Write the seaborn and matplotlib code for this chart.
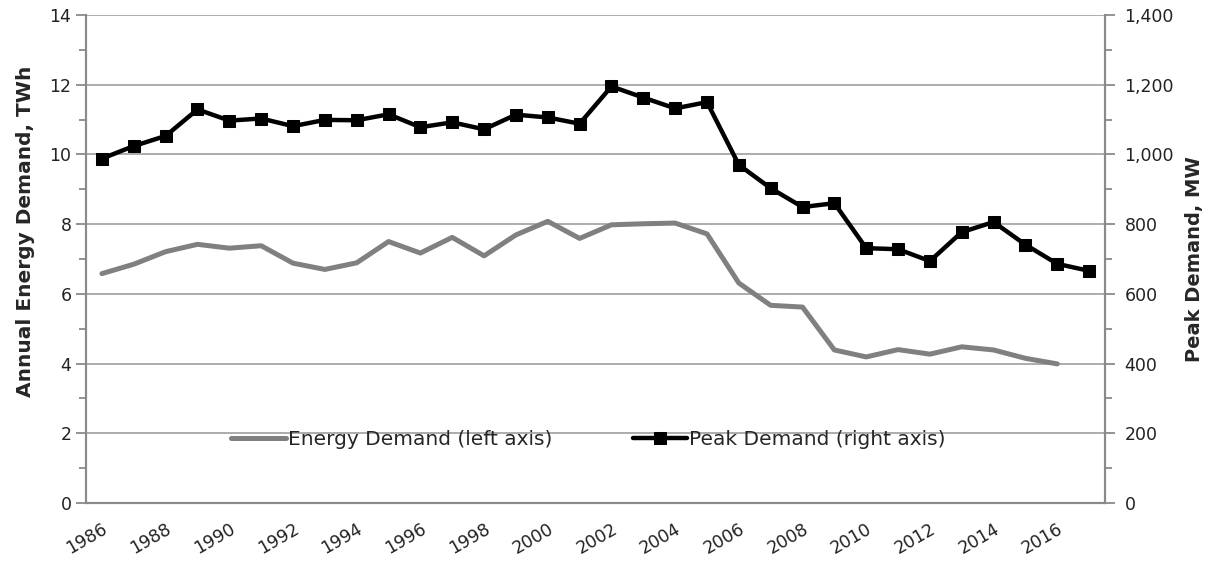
import numpy as np
import pandas as pd
import seaborn as sns
import matplotlib.pyplot as plt
from matplotlib.ticker import MultipleLocator, FuncFormatter

years = list(range(1986, 2018))
energy_twh = [6.58, 6.85, 7.21, 7.42, 7.31, 7.38, 6.88, 6.70, 6.89, 7.50,
              7.17, 7.62, 7.09, 7.69, 8.08, 7.59, 7.98, 8.01, 8.03, 7.72,
              6.31, 5.67, 5.62, 4.39, 4.19, 4.40, 4.27, 4.48, 4.39, 4.15,
              3.99, np.nan]
peak_mw = [988, 1024, 1053, 1129, 1097, 1103, 1081, 1099, 1098, 1115,
           1078, 1092, 1072, 1114, 1106, 1088, 1195, 1163, 1132, 1150,
           970, 903, 849, 860, 731, 728, 694, 777, 806, 741,
           686, 666]

df = pd.DataFrame({"year": years, "energy": energy_twh, "peak": peak_mw})

sns.set_style("white")
plt.rcParams["font.family"] = ["DejaVu Sans"]
grey = "#8a8a8a"

fig = plt.figure(figsize=(12.15, 5.63), dpi=100, facecolor="white")
ax = fig.add_axes([0.0708, 0.1066, 0.8387, 0.8668])
ax2 = ax.twinx()

sns.lineplot(data=df, x="year", y="energy", ax=ax, color="#808080",
             linewidth=3.6, label="Energy Demand (left axis)", legend=False)
sns.lineplot(data=df, x="year", y="peak", ax=ax2, color="black",
             linewidth=3.2, marker="s", markersize=9, markeredgecolor="black",
             label="Peak Demand (right axis)", legend=False)

ax.set_xlim(1985.5, 2017.5)
ax.set_ylim(0, 14)
ax2.set_ylim(0, 1400)

# y axes
ax.yaxis.set_major_locator(MultipleLocator(2))
ax.yaxis.set_minor_locator(MultipleLocator(1))
ax2.yaxis.set_major_locator(MultipleLocator(200))
ax2.yaxis.set_minor_locator(MultipleLocator(100))
ax2.yaxis.set_major_formatter(FuncFormatter(lambda v, p: f"{int(v):,}"))
ax.grid(axis="y", which="major", color="#a6a6a6", linewidth=1.3)
ax.set_axisbelow(True)

# x axis: labels centred on categories, ticks at category boundaries
ax.set_xticks(years[::2])
ax.set_xticklabels([str(y) for y in years[::2]], rotation=30, ha="right",
                   va="top", rotation_mode="anchor")
ax.set_xticks(np.arange(1985.5, 2018, 1), minor=True)
ax.tick_params(axis="x", which="major", length=0, pad=12)
ax.tick_params(axis="x", which="minor", length=6, width=1.3, color=grey)
ax.tick_params(axis="y", which="major", length=7, width=1.3, color=grey)
ax.tick_params(axis="y", which="minor", length=5, width=1.3, color=grey)
ax2.tick_params(axis="y", which="major", length=7, width=1.3, color=grey,
                pad=7)
ax2.tick_params(axis="y", which="minor", length=5, width=1.3, color=grey)
for a in (ax, ax2):
    a.tick_params(labelsize=12.5, labelcolor="#222222")
    a.set_xlabel("")

for s in ["left", "bottom", "right"]:
    ax2.spines[s].set_color(grey)
    ax2.spines[s].set_linewidth(1.5)
    ax.spines[s].set_color(grey)
    ax.spines[s].set_linewidth(1.5)
ax.spines["top"].set_visible(False)
ax2.spines["top"].set_visible(False)

ax.set_ylabel("Annual Energy Demand, TWh", fontsize=14.5, fontweight="bold")
ax.yaxis.set_label_coords(-0.05, 0.557)
ax2.set_ylabel("Peak Demand, MW", fontsize=14, fontweight="bold",
               labelpad=8)

h1, l1 = ax.get_legend_handles_labels()
h2, l2 = ax2.get_legend_handles_labels()
ax2.legend(h1 + h2, l1 + l2, loc="center", bbox_to_anchor=(0.493, 0.13),
           ncol=2, frameon=False, fontsize=14.5, handlelength=2.7,
           handletextpad=0.1, columnspacing=4.0)

plt.savefig("out.png", dpi=100, facecolor="white")
plt.close()
